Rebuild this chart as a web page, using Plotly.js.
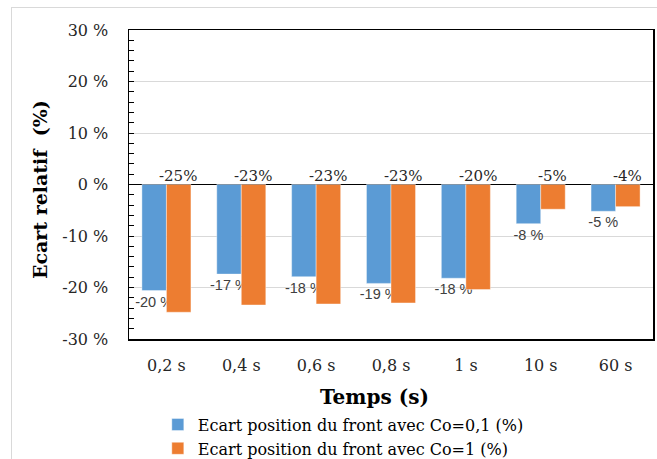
<!DOCTYPE html>
<html>
<head>
<meta charset="utf-8">
<script src="https://cdn.plot.ly/plotly-3.0.1.min.js"></script>
<style>
  html, body { margin:0; padding:0; overflow:hidden; background:#fff; }
  #frame { position:absolute; left:11px; top:7px; width:700px; height:500px; border:1px solid #d9d9d9; pointer-events:none; }
  #chart { position:absolute; left:0; top:0; width:657px; height:459px; }
</style>
</head>
<body>
<div id="frame"></div>
<div id="chart"></div>
<script>
const categories = ["0,2 s", "0,4 s", "0,6 s", "0,8 s", "1 s", "10 s", "60 s"];
const seriesNames = ["Ecart position du front avec Co=0,1 (%)", "Ecart position du front avec Co=1 (%)"];
const valuesCo01 = [-20.6, -17.4, -17.9, -19.2, -18.2, -7.6, -5.2];
const valuesCo1  = [-24.8, -23.4, -23.2, -23.0, -20.4, -4.8, -4.3];
const labelsCo01 = ["-20 %", "-17 %", "-18 %", "-19 %", "-18 %", "-8 %", "-5 %"];
const labelsCo1  = ["-25%", "-23%", "-23%", "-23%", "-20%", "-5%", "-4%"];
const yTickVals = [-30, -20, -10, 0, 10, 20, 30];
const yTickText = ["-30 %", "-20 %", "-10 %", "0 %", "10 %", "20 %", "30 %"];

const serif = "DejaVu Serif, serif";
const sans = "Liberation Sans, Arial, sans-serif";

const traces = [
  {
    type: "bar", name: seriesNames[0], x: categories, y: valuesCo01,
    marker: { color: "#5B9BD5", line: { color: "rgba(255,255,255,0.4)", width: 1 } },
    text: labelsCo01, textposition: "outside", constraintext: "none", cliponaxis: false,
    outsidetextfont: { family: sans, size: 14.5, color: "#404040" },
    hoverinfo: "skip"
  },
  {
    type: "bar", name: seriesNames[1], x: categories, y: valuesCo1,
    marker: { color: "#ED7D31", line: { color: "rgba(255,255,255,0.4)", width: 1 } },
    textposition: "none", hoverinfo: "skip"
  }
];

const annotations = categories.map((c, i) => ({
  x: c, y: 0, xref: "x", yref: "y", text: labelsCo1[i], showarrow: false,
  yanchor: "bottom", xanchor: "center", xshift: 12, yshift: -2,
  font: { family: serif, size: 15, color: "#262626" }
}));
annotations.push({
  xref: "paper", yref: "paper", x: 0.4676, y: -0.188, text: "<b>Temps (s)</b>",
  showarrow: false, xanchor: "center", yanchor: "middle",
  font: { family: serif, size: 20, color: "#000" }
});
annotations.push({
  xref: "paper", yref: "paper", x: -0.17, y: 0.485, text: "<b>Ecart relatif  (%)</b>",
  showarrow: false, xanchor: "center", yanchor: "middle", textangle: -90,
  font: { family: serif, size: 19, color: "#000" }
});

const layout = {
  width: 657, height: 459,
  margin: { l: 129, r: 4, t: 30, b: 120, pad: 0, autoexpand: false },
  paper_bgcolor: "rgba(0,0,0,0)", plot_bgcolor: "#fff",
  barmode: "group", bargap: 0.345, bargroupgap: 0,
  showlegend: true,
  legend: {
    orientation: "v", x: 0.055, xanchor: "left", y: -0.222, yanchor: "top",
    font: { family: serif, size: 16, color: "#000" }, tracegroupgap: 0,
    bgcolor: "rgba(0,0,0,0)", traceorder: "normal"
  },
  xaxis: {
    type: "category", showline: true, linecolor: "#000", linewidth: 1.5, mirror: true,
    ticks: "", showgrid: false, fixedrange: true,
    tickfont: { family: serif, size: 16, color: "#262626" }, ticklabelstandoff: 11
  },
  yaxis: {
    range: [-30, 30], tickvals: yTickVals, ticktext: yTickText,
    showline: true, linecolor: "#000", linewidth: 1.5, mirror: true,
    ticks: "inside", ticklen: 5, tickcolor: "#000",
    minor: { dtick: 2, ticks: "inside", ticklen: 5, tickcolor: "#000", showgrid: false },
    showgrid: true, gridcolor: "#d9d9d9", gridwidth: 1,
    zeroline: true, zerolinecolor: "#000", zerolinewidth: 1.5,
    tickfont: { family: serif, size: 16, color: "#262626" }, ticklabelstandoff: 16,
    fixedrange: true
  },
  annotations: annotations
};

Plotly.newPlot("chart", traces, layout, { staticPlot: true, displayModeBar: false });
</script>
</body>
</html>
